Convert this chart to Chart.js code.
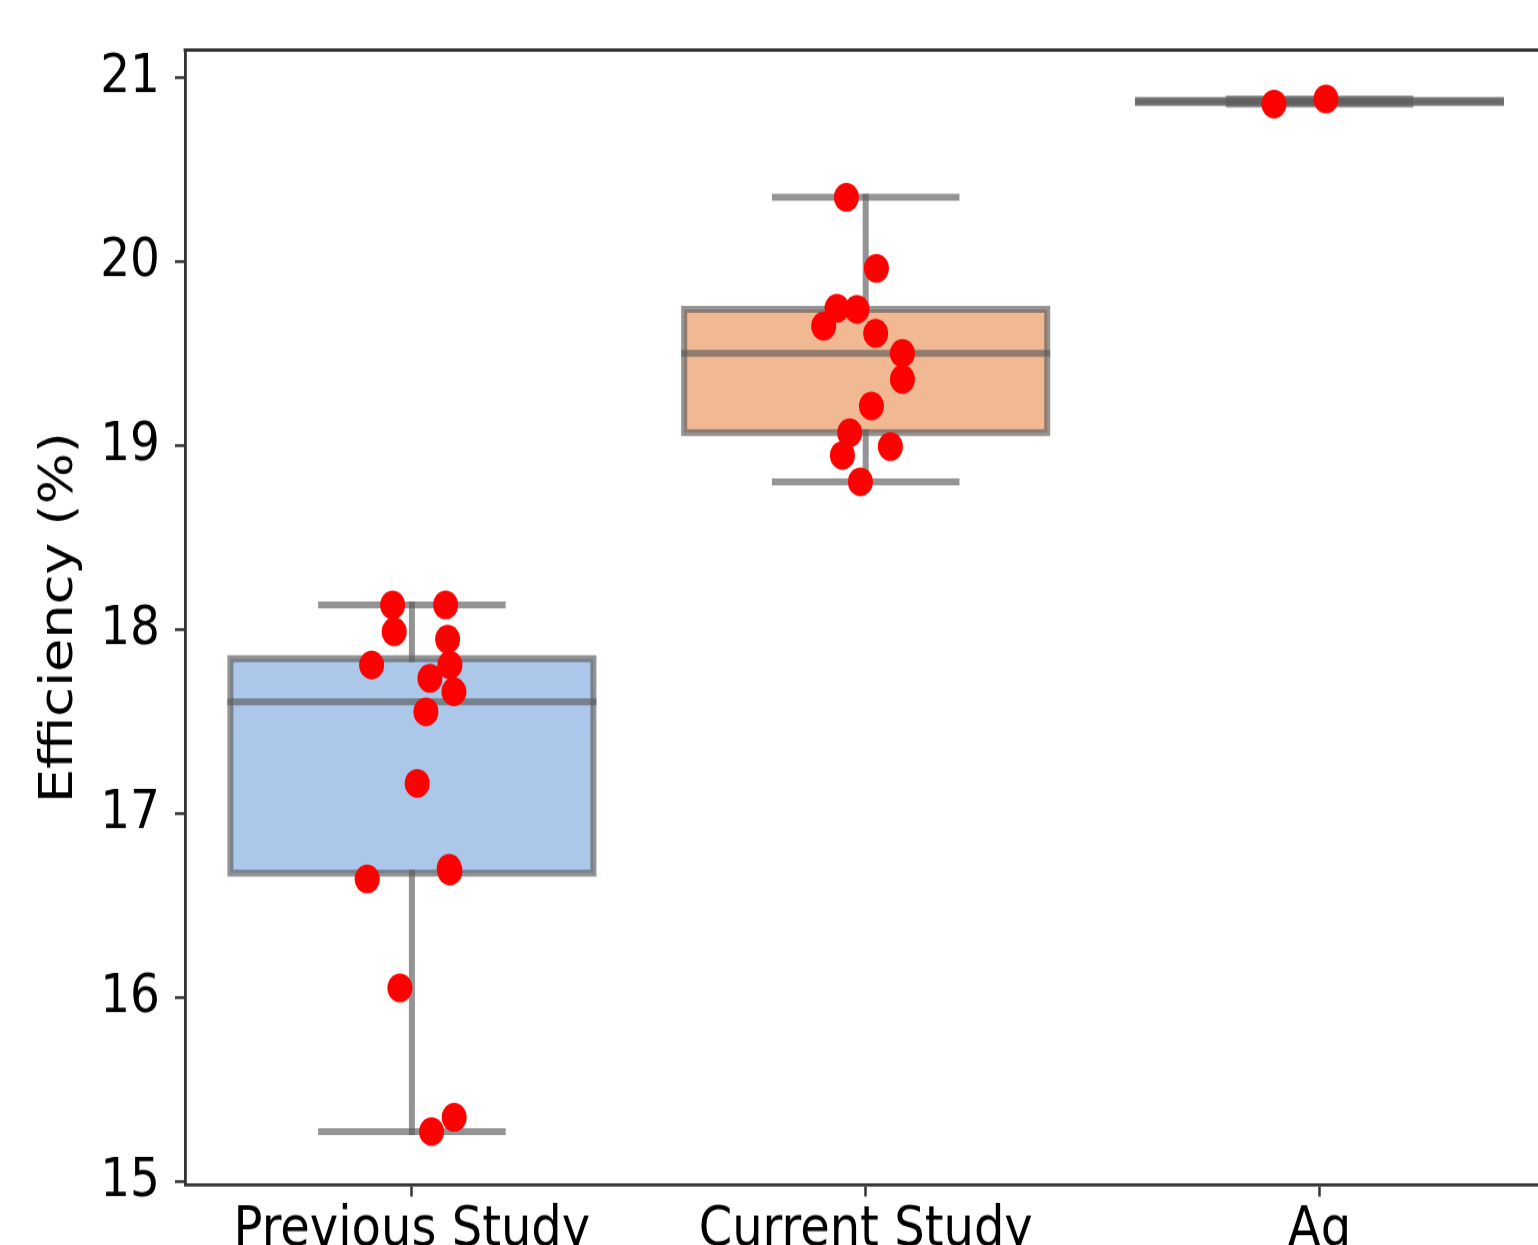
<!DOCTYPE html>
<html>
<head>
<meta charset="utf-8">
<script src="https://cdn.jsdelivr.net/npm/chart.js@4.4.1/dist/chart.umd.min.js"></script>
<style>
html,body{margin:0;padding:0;background:#fff;overflow:hidden;width:1538px;height:1245px;}
#wrap{position:absolute;left:0;top:0;width:1600px;height:1090px;transform:scale(1,1.15);transform-origin:0 0;}
canvas{display:block;}
</style>
</head>
<body>
<div id="wrap"><canvas id="c" width="1600" height="1090"></canvas></div>
<script>
// ---- data ----
const categories = ['Previous Study', 'Current Study', 'Ag'];

const previousValues = [18.134, 18.134, 17.989, 17.948, 17.808, 17.808, 17.736, 17.663, 17.554, 17.165, 16.645, 16.703, 16.688, 16.053, 15.350, 15.272];
const previousJitter = [-0.0425, 0.0743, -0.039, 0.0787, -0.0888, 0.0837, 0.0397, 0.0926, 0.0309, 0.0117, -0.0985, 0.0822, 0.0837, -0.0264, 0.0932, 0.0434];

const currentValues = [20.35, 19.964, 19.747, 19.741, 19.65, 19.611, 19.502, 19.361, 19.216, 19.07, 18.948, 18.995, 18.804];
const currentJitter = [-0.0425, 0.0236, -0.0633, -0.0192, -0.0926, 0.022, 0.0809, 0.0809, 0.0126, -0.0353, -0.0513, 0.0544, -0.0117];

const agValues = [20.857, 20.884];
const agJitter = [-0.1003, 0.0143];

const yTicks = [15, 16, 17, 18, 19, 20, 21];
const yMin = 14.982;
const yMax = 21.1505;

// ---- styles ----
const FONT = 'DejaVu Sans';
const boxFills = ['#abc8ea', '#f0b893', '#a9d6b2'];
const lineColor = 'rgba(90,90,90,0.65)';
const axisColor = '#333333';
const H0 = 1090, PLOT_BOTTOM = 1030.43, PLOT_TOP = 43.48, PLOT_RIGHT = 1546.4, Y_AXIS_W = 185;

// ---- box statistics (numpy-style linear quantiles, 1.5 IQR whiskers) ----
function quantile(s, p) {
  const pos = (s.length - 1) * p, lo = Math.floor(pos), hi = Math.ceil(pos);
  return s[lo] + (s[hi] - s[lo]) * (pos - lo);
}
function boxStats(vals) {
  const s = [...vals].sort((a, b) => a - b);
  const q1 = quantile(s, 0.25), med = quantile(s, 0.5), q3 = quantile(s, 0.75);
  const iqr = q3 - q1;
  const lo = s.find(v => v >= q1 - 1.5 * iqr);
  const hi = [...s].reverse().find(v => v <= q3 + 1.5 * iqr);
  return { q1, med, q3, lo, hi };
}
const groups = [
  { values: previousValues, jitter: previousJitter },
  { values: currentValues, jitter: currentJitter },
  { values: agValues, jitter: agJitter }
];
const stats = groups.map(g => boxStats(g.values));

const BOX_HALF = 0.4, CAP_HALF = 0.2;
const gap = i => ({ x: i + 0.5, y: null });

const outlineData = [], medianData = [], whiskerData = [], capData = [];
stats.forEach((st, i) => {
  outlineData.push({ x: i - BOX_HALF, y: st.q1 }, { x: i + BOX_HALF, y: st.q1 }, { x: i + BOX_HALF, y: st.q3 },
                   { x: i - BOX_HALF, y: st.q3 }, { x: i - BOX_HALF, y: st.q1 }, gap(i));
  medianData.push({ x: i - BOX_HALF, y: st.med }, { x: i + BOX_HALF, y: st.med }, gap(i));
  whiskerData.push({ x: i, y: st.q3 }, { x: i, y: st.hi }, gap(i), { x: i, y: st.q1 }, { x: i, y: st.lo }, gap(i));
  capData.push({ x: i - CAP_HALF, y: st.hi }, { x: i + CAP_HALF, y: st.hi }, gap(i),
               { x: i - CAP_HALF, y: st.lo }, { x: i + CAP_HALF, y: st.lo }, gap(i));
});

const pointData = [];
groups.forEach((g, i) => g.values.forEach((v, k) => pointData.push({ x: i + g.jitter[k], y: v })));

const lineDs = (data) => ({
  type: 'line', data, borderColor: lineColor, borderWidth: 6, pointRadius: 0, pointHoverRadius: 0,
  fill: false, tension: 0, spanGaps: false, borderCapStyle: 'square', borderJoinStyle: 'miter', order: 1
});

const framePlugin = {
  id: 'frame',
  afterDatasetsDraw(chart) {
    const { ctx, chartArea: { left, top, right, bottom } } = chart;
    ctx.save();
    ctx.strokeStyle = axisColor;
    ctx.lineWidth = 2.8;
    ctx.beginPath();
    ctx.moveTo(left - 1.4, top);
    ctx.lineTo(right, top);
    ctx.lineTo(right, bottom + 1.4);
    ctx.stroke();
    ctx.restore();
  }
};

Chart.defaults.font.family = FONT;

new Chart(document.getElementById('c'), {
  type: 'bar',
  data: {
    datasets: [
      {
        type: 'scatter', data: pointData, backgroundColor: '#ff0000', borderWidth: 0,
        pointRadius: 12.5, pointHoverRadius: 12.5, showLine: false, order: 0
      },
      lineDs(outlineData),
      lineDs(medianData),
      lineDs(whiskerData),
      lineDs(capData),
      {
        type: 'bar', data: stats.map((st, i) => ({ x: i, y: [st.q1, st.q3] })),
        backgroundColor: boxFills, borderWidth: 0, barPercentage: 0.8, categoryPercentage: 1, order: 3
      }
    ]
  },
  options: {
    responsive: false,
    animation: false,
    devicePixelRatio: 1,
    events: [],
    layout: { padding: { left: 0, top: PLOT_TOP, right: 1600 - PLOT_RIGHT, bottom: 0 } },
    plugins: { legend: { display: false }, tooltip: { enabled: false } },
    scales: {
      x: {
        type: 'linear', min: -0.5, max: 2.5, offset: false,
        afterBuildTicks: s => { s.ticks = categories.map((c, i) => ({ value: i })); },
        afterFit: s => { s.height = H0 - PLOT_BOTTOM; },
        ticks: {
          callback: v => categories[v], font: { family: FONT, size: 48 }, color: '#000',
          padding: 1, maxRotation: 0, autoSkip: false
        },
        grid: { display: true, offset: false, drawOnChartArea: false, drawTicks: true, tickLength: 10, tickColor: axisColor, tickWidth: 2.5 },
        border: { display: true, color: axisColor, width: 2.8 }
      },
      y: {
        type: 'linear', min: yMin, max: yMax, beginAtZero: false,
        afterBuildTicks: s => { s.ticks = yTicks.map(v => ({ value: v })); },
        afterFit: s => { s.width = Y_AXIS_W; },
        ticks: { callback: v => String(v), font: { family: FONT, size: 47 }, color: '#000', padding: 15 },
        grid: { display: true, drawOnChartArea: false, drawTicks: true, tickLength: 10, tickColor: axisColor, tickWidth: 2.5 },
        border: { display: true, color: axisColor, width: 2.8 },
        title: { display: true, text: 'Efficiency (%)', font: { family: FONT, size: 47 }, color: '#000', padding: { top: 32, bottom: 0 } }
      }
    }
  },
  plugins: [framePlugin]
});
</script>
</body>
</html>
